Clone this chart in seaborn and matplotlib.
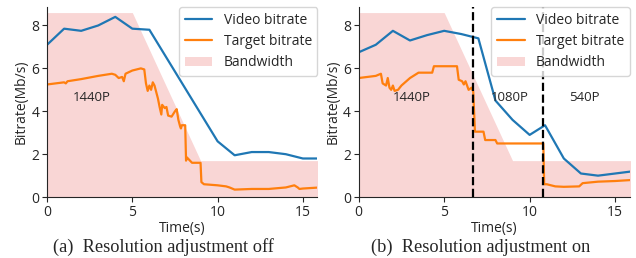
import numpy as np
import pandas as pd
import matplotlib
matplotlib.use("Agg")
import matplotlib.pyplot as plt
import seaborn as sns

# bandwidth envelope (shared by both panels)
bw_t = [0, 5, 9, 16]
bw_v = [8.6, 8.6, 1.7, 1.7]

# (a) resolution adjustment off
a_video_t = [0, 1, 2, 3, 4, 5, 6, 10, 11, 12, 13, 14, 15, 16]
a_video_v = [7.1, 7.85, 7.75, 8.0, 8.4, 7.85, 7.8, 2.6, 1.95, 2.1, 2.1, 2.0, 1.8, 1.8]
a_target_t = [0, 1, 1.1, 1.2, 2, 3, 3.8, 4.0, 4.2, 4.4, 4.5, 4.6, 5.0, 5.5, 5.7,
              5.8, 5.9, 6.0, 6.1, 6.2, 6.3, 6.4, 6.5, 6.6, 6.7, 6.75, 6.9, 7.0,
              7.1, 7.3, 7.5, 7.6, 7.7, 7.8, 7.85, 7.9, 8.1, 8.15, 8.2, 8.5, 9.0,
              9.05, 9.2, 10.0, 10.5, 10.7, 11.0, 12.0, 13.0, 14.0, 14.5, 14.7,
              14.8, 15.0, 16.0]
a_target_v = [5.25, 5.35, 5.3, 5.4, 5.5, 5.65, 5.75, 5.7, 5.55, 5.6, 5.4, 5.75,
              5.9, 6.0, 5.95, 5.3, 4.95, 5.2, 5.0, 5.35, 5.2, 4.9, 4.6, 4.2, 3.85,
              4.3, 4.15, 4.2, 3.8, 3.75, 4.0, 4.1, 3.6, 3.3, 3.2, 3.35, 3.35, 1.7,
              1.85, 1.6, 1.6, 0.7, 0.6, 0.55, 0.5, 0.45, 0.35, 0.38, 0.38, 0.45,
              0.55, 0.45, 0.38, 0.4, 0.45]

# (b) resolution adjustment on
b_video_t = [0, 1, 2, 3, 4, 5, 6, 7, 8, 9, 10, 10.9, 12, 13, 14, 15, 16]
b_video_v = [6.75, 7.1, 7.75, 7.3, 7.55, 7.75, 7.6, 7.4, 4.5, 3.6, 2.9, 3.35,
             1.8, 1.1, 1.0, 1.1, 1.2]
b_target_t = [0, 1, 1.3, 1.4, 1.6, 1.7, 1.8, 1.9, 2.0, 2.1, 2.3, 2.5, 3.0, 3.5,
              4.3, 4.4, 5.0, 5.75, 5.85, 6.05, 6.15, 6.25, 6.43, 6.6, 6.7, 6.8,
              7.3, 7.4, 8.0, 8.1, 10.8, 10.85, 11.0, 11.5, 12.0, 12.9, 13.1,
              14.0, 15.0, 16.0]
b_target_v = [5.55, 5.65, 5.75, 5.3, 5.2, 5.55, 5.1, 5.0, 5.2, 4.95, 5.0, 5.2,
              5.55, 5.8, 5.8, 6.1, 6.1, 6.1, 5.47, 5.4, 5.25, 5.4, 5.0, 5.1, 4.92,
              3.05, 3.05, 2.66, 2.66, 2.5, 2.5, 0.6, 0.6, 0.5, 0.48, 0.5, 0.65,
              0.72, 0.75, 0.8]
b_switch = [6.7, 10.8]

# resolution labels: (x, y, text)
a_labels = [(2.6, 4.65, "1440P")]
b_labels = [(3.1, 4.65, "1440P"), (8.85, 4.65, "1080P"), (13.2, 4.65, "540P")]

sns.set_style("ticks")
plt.rcParams["font.family"] = ["Open Sans", "DejaVu Sans"]

fig = plt.figure(figsize=(6.36, 2.58), dpi=100)
ax_a = fig.add_axes([0.074, 0.236, 0.425, 0.736])
ax_b = fig.add_axes([0.564, 0.236, 0.426, 0.736])

blue = "#1f77b4"
orange = "#ff7f0e"
pink = "#f9d6d5"


def draw_panel(ax, video_t, video_v, target_t, target_v, labels, caption, cap_x):
    ax.fill_between(bw_t, 0, bw_v, color=pink, lw=0, label="Bandwidth")
    sns.lineplot(x=video_t, y=video_v, ax=ax, color=blue, lw=1.6,
                 label="Video bitrate", sort=False)
    sns.lineplot(x=target_t, y=target_v, ax=ax, color=orange, lw=1.6,
                 label="Target bitrate", sort=False)
    for x, y, s in labels:
        ax.text(x, y, s, ha="center", va="center", fontsize=9.5)
    ax.set_xlim(0, 15.85)
    ax.set_ylim(0, 8.85)
    ax.set_xticks([0, 5, 10, 15])
    ax.set_yticks([0, 2, 4, 6, 8])
    ax.tick_params(labelsize=10, length=3.5, pad=2)
    ax.set_xlabel("Time(s)", fontsize=10, labelpad=1)
    ax.set_ylabel("Bitrate(Mb/s)", fontsize=10, labelpad=2)
    h, l = ax.get_legend_handles_labels()
    order = [l.index("Video bitrate"), l.index("Target bitrate"), l.index("Bandwidth")]
    ax.legend([h[i] for i in order], [l[i] for i in order], loc="upper right",
              fontsize=10, frameon=True, fancybox=True, borderaxespad=0.0,
              handlelength=2.0, labelspacing=0.45)
    sns.despine(ax=ax)
    fig.text(cap_x, 0.043, caption, ha="center", va="center",
             fontsize=13.2, family=["Liberation Serif", "DejaVu Serif"])


draw_panel(ax_a, a_video_t, a_video_v, a_target_t, a_target_v, a_labels,
           "(a)  Resolution adjustment off", 0.257)
draw_panel(ax_b, b_video_t, b_video_v, b_target_t, b_target_v, b_labels,
           "(b)  Resolution adjustment on", 0.755)
for x in b_switch:
    ax_b.axvline(x, color="black", ls="--", lw=1.6, zorder=5)

fig.savefig("out.png", dpi=100)
